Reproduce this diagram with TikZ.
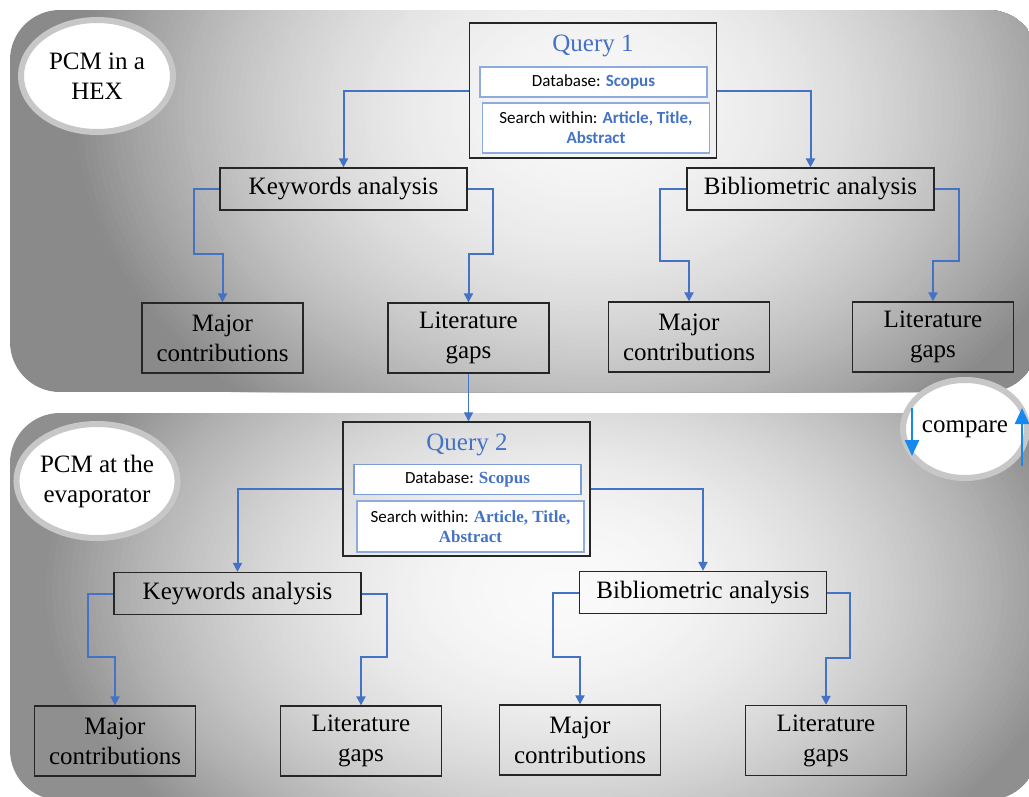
\documentclass[tikz,border=0pt]{standalone}
\usepackage{fontspec}
\setmainfont{Liberation Serif}
\newfontfamily\calfont{Carlito}
\usetikzlibrary{arrows.meta,shapes.geometric}
\usepackage{xcolor}

\definecolor{qblue}{HTML}{4472C4}
\definecolor{boxblue}{HTML}{8FAADC}
\definecolor{cmpblue}{HTML}{1589F0}

\tikzset{
  anbox/.style={draw=black!85, line width=1.3, minimum width=247, minimum height=42, inner sep=0, font=\rmfamily\fontsize{25}{30}\selectfont},
  leafbox/.style={draw=black!85, line width=1.3, minimum width=161, minimum height=70, inner sep=0, align=center, font=\rmfamily\fontsize{25}{30}\selectfont},
  qbox/.style={draw=black!85, line width=1.3, minimum width=247, minimum height=135, inner sep=0},
  qtitle/.style={text=qblue, font=\rmfamily\fontsize{25}{30}\selectfont},
  dbbox/.style={draw=boxblue, fill=white, line width=1.2, minimum width=227, minimum height=30, inner sep=0, align=center, font=\calfont\fontsize{17}{20}\selectfont},
  tag/.style={ellipse, fill=white, draw=black!22, line width=6, inner sep=0, align=center, font=\rmfamily\fontsize{25}{30}\selectfont},
  link/.style={draw=qblue, line width=2, -{Triangle[length=9,width=9]}},
  cmparrow/.style={draw=cmpblue, line width=2.5, -{Triangle[length=16,width=14]}}
}

\newcommand{\hl}[1]{{\bfseries\color{qblue}#1}}
\newcommand{\hlserif}[1]{{\rmfamily\bfseries\color{qblue}#1}}

\begin{document}
\begin{tikzpicture}[x=1pt,y=-1pt]
\useasboundingbox (0,0) rectangle (1029,796);

	%shaded panels, built from nested ellipses
\begin{scope}
\clip[rounded corners=50] (10,10) rectangle (1038,392);
\fill[black!46] (10,10) rectangle (1038,392);
\foreach \r in {520,514,...,0} {
  \pgfmathsetmacro\p{3+43*(\r/520)^2}
  \fill[black!\p] (590,110) ellipse ({\r} and {0.75*\r});
}
\end{scope}
\begin{scope}
\clip[rounded corners=50] (10,413) rectangle (1038,800);
\fill[black!44] (10,413) rectangle (1038,800);
\foreach \r in {520,514,...,0} {
  \pgfmathsetmacro\p{2+42*(\r/520)^2}
  \fill[black!\p] (560,590) ellipse ({\r} and {0.65*\r});
}
\end{scope}

	%labels of the two panels
\node[tag, minimum width=152, minimum height=112] (hex) at (97,76) {PCM in a\\HEX};
\node[tag, minimum width=152, minimum height=114] (evap) at (97,481) {PCM at the\\evaporator};

	%query 1
\node[qbox] (q1) at (593,90.5) {};
\node[qtitle] (q1t) at (593,46) {Query 1};
\node[dbbox] (q1db) at (593.5,82) {Database: \hl{Scopus}};
\node[dbbox, minimum height=50] (q1sw) at (596,128) {Search within: \hl{Article, Title,}\\\hl{Abstract}};

\node[anbox] (kw1) at (343.5,189) {Keywords analysis};
\node[anbox] (bib1) at (810.5,189) {Bibliometric analysis};
\node[leafbox] (maj1) at (222.5,338) {Major\\contributions};
\node[leafbox] (gap1) at (468.5,338) {Literature\\gaps};
\node[leafbox] (maj2) at (689,337) {Major\\contributions};
\node[leafbox] (gap2) at (933,337) {Literature\\gaps};

	%query 2
\node[qbox, minimum height=134] (q2) at (466.5,489) {};
\node[qtitle] (q2t) at (467,445) {Query 2};
\node[dbbox, draw=qblue!70] (q2db) at (467.5,479.5) {Database: \hlserif{Scopus}};
\node[dbbox, minimum height=51] (q2sw) at (470.5,526.5) {Search within: \hlserif{Article, Title,}\\\hlserif{Abstract}};

\node[anbox] (kw2) at (237.5,593.5) {Keywords analysis};
\node[anbox] (bib2) at (703,592.5) {Bibliometric analysis};
\node[leafbox] (maj3) at (115,741) {Major\\contributions};
\node[leafbox] (gap3) at (361,741) {Literature\\gaps};
\node[leafbox] (maj4) at (580,740) {Major\\contributions};
\node[leafbox] (gap4) at (826,740.5) {Literature\\gaps};

	%connectors
\draw[link] (q1.west) -| (kw1.north);
\draw[link] (q1.east) -| (bib1.north);
\draw[link] (kw1.west) -- ++(-25,0) |- ([yshift=48]maj1.north) -- (maj1.north);
\draw[link] (kw1.east) -- ++(25,0) |- ([yshift=48]gap1.north) -- (gap1.north);
\draw[link] (bib1.west) -- ++(-26,0) |- ([yshift=40]maj2.north) -- (maj2.north);
\draw[link] (bib1.east) -- ++(24,0) |- ([yshift=40]gap2.north) -- (gap2.north);

\draw[link, line width=1] (gap1.south) -- (gap1.south |- q2.north);

\draw[link] (q2.west) -| (kw2.north);
\draw[link] (q2.east) -| (bib2.north);
\draw[link] (kw2.west) -- ++(-25,0) |- ([yshift=48]maj3.north) -- (maj3.north);
\draw[link] (kw2.east) -- ++(25,0) |- ([yshift=48]gap3.north) -- (gap3.north);
\draw[link] (bib2.west) -- ++(-26,0) |- ([yshift=47]maj4.north) -- (maj4.north);
\draw[link] (bib2.east) -- ++(23,0) |- ([yshift=47]gap4.north) -- (gap4.north);

	%compare bubble with its two arrows
\node[tag, minimum width=124, minimum height=98] (cmp) at (965,429) {compare};
\coordinate (cmpdowna) at (912,408);
\coordinate (cmpdownb) at (912,456);
\coordinate (cmpupa) at (1022,466);
\coordinate (cmpupb) at (1022,408);
\draw[cmparrow] (cmpdowna) -- (cmpdownb);
\draw[cmparrow] (cmpupa) -- (cmpupb);

\end{tikzpicture}
\end{document}
